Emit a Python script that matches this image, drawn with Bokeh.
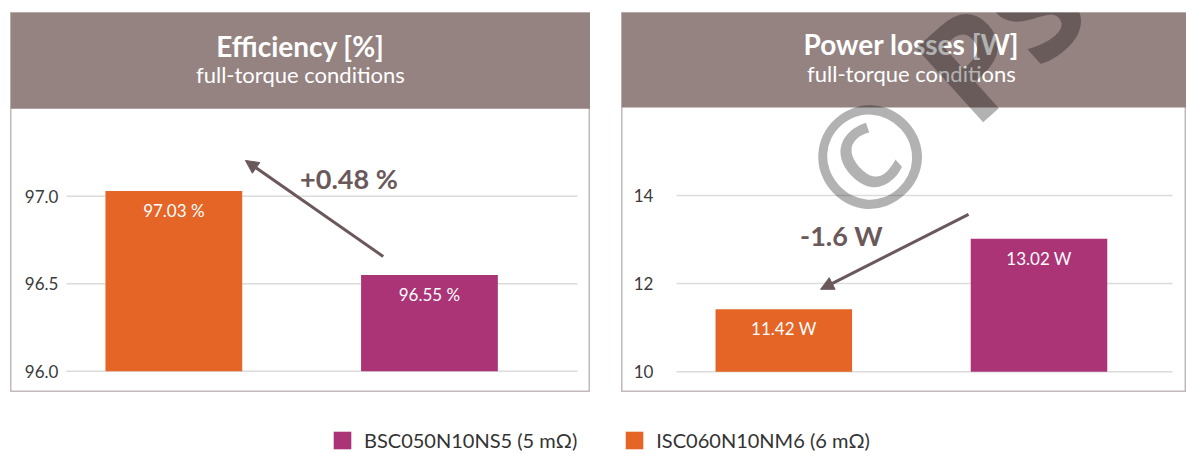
from bokeh.plotting import figure
from bokeh.layouts import column, row
from bokeh.models import (ColumnDataSource, BoxAnnotation, Label, Arrow, NormalHead,
                          FixedTicker, Spacer, Legend, LegendItem, NumeralTickFormatter, Range1d)
from bokeh.core.properties import value
from bokeh.embed import file_html
from bokeh.resources import INLINE

# ---------------- data ----------------
devices = ["ISC060N10NM6 (6 mΩ)", "BSC050N10NS5 (5 mΩ)"]
bar_colors = ["#e46526", "#aa3476"]
efficiency = [97.03, 96.55]
efficiency_labels = ["97.03 %", "96.55 %"]
losses = [11.42, 13.02]
losses_labels = ["11.42 W", "13.02 W"]
eff_ticks = [96.0, 96.5, 97.0]
loss_ticks = [10, 12, 14]
eff_base = 96.0
loss_base = 10.0
eff_delta = "+0.48 %"
loss_delta = "-1.6 W"
panel_titles = ["Efficiency [%]", "Power losses [W]"]
panel_subtitle = "full-torque conditions"

FONT = "Lato"
HEADER = "#958382"
ANNOT = "#6b585b"
BORDER = "#c3b9ba"


def make_panel(width, xr, yr, header_bottom, values, base, labels,
               ticks, fmt, axis_x, grid_x):
    p = figure(width=width, height=380, x_range=Range1d(*xr), y_range=Range1d(*yr),
               output_backend="svg", toolbar_location=None, min_border=0)
    p.xaxis.visible = False
    p.xgrid.visible = False
    p.ygrid.visible = False
    p.background_fill_color = "white"
    p.border_fill_color = "white"
    p.outline_line_color = BORDER
    p.outline_line_width = 2

    # horizontal grid lines at the tick values
    p.segment(x0=grid_x[0], x1=grid_x[1], y0=ticks, y1=ticks,
              line_color="#dcdcdc", line_width=1.5)

    src = ColumnDataSource(dict(x=[0, 1], top=values, color=bar_colors, label=labels))
    p.vbar(x="x", top="top", bottom=base, width=0.535, source=src,
           fill_color="color", line_color=None)
    p.text(x="x", y="top", text="label", source=src, text_align="center",
           text_baseline="top", y_offset=9, text_color="white",
           text_font=value(FONT), text_font_size="17px")

    ax = p.yaxis[0]
    ax.fixed_location = axis_x
    ax.ticker = FixedTicker(ticks=ticks)
    ax.formatter = NumeralTickFormatter(format=fmt)
    ax.axis_line_color = None
    ax.major_tick_line_color = None
    ax.minor_tick_line_color = None
    ax.major_tick_out = 0
    ax.major_tick_in = 0
    ax.major_label_standoff = 4
    ax.major_label_text_font = FONT
    ax.major_label_text_font_size = "17px"
    ax.major_label_text_color = "#3a3a3a"

    p.add_layout(BoxAnnotation(bottom=header_bottom, fill_color=HEADER, fill_alpha=1.0,
                               line_color=None, level="underlay"))
    return p


def header_labels(p, x, y_title, y_sub, title):
    p.add_layout(Label(x=x, y=y_title, text=title, text_align="center",
                       text_baseline="middle", text_color="white", text_font=FONT,
                       text_font_style="bold", text_font_size="28px"))
    p.add_layout(Label(x=x, y=y_sub, text=panel_subtitle, text_align="center",
                       text_baseline="middle", text_color="white", text_font=FONT,
                       text_font_size="22px"))


# ---------------- left panel: efficiency ----------------
p1 = make_panel(580, (-0.639, 1.630), (95.879, 98.049), 97.5,
                efficiency, eff_base, efficiency_labels, eff_ticks, "0.0", -0.436,
                (-0.42, 1.579))
header_labels(p1, 0.495, 97.86, 97.695, panel_titles[0])
p1.add_layout(Arrow(end=NormalHead(size=13, fill_color=ANNOT, line_color=ANNOT),
                    x_start=1 - 0.181, y_start=efficiency[1] + 0.106,
                    x_end=0 + 0.28, y_end=efficiency[0] + 0.174,
                    line_color=ANNOT, line_width=3))
p1.add_layout(Label(x=0.685, y=97.101, text=eff_delta, text_align="center",
                    text_baseline="middle", text_color=ANNOT, text_font=FONT,
                    text_font_style="bold", text_font_size="27px"))

# ---------------- right panel: power losses ----------------
p2 = make_panel(565, (-0.636, 1.578), (9.528, 18.154), 16.0,
                losses, loss_base, losses_labels, loss_ticks, "0", -0.495,
                (-0.42, 1.523))
header_labels(p2, 0.5, 17.43, 16.77, panel_titles[1])
p2.add_layout(Arrow(end=NormalHead(size=13, fill_color=ANNOT, line_color=ANNOT),
                    x_start=1 - 0.276, y_start=losses[1] + 0.55,
                    x_end=0 + 0.144, y_end=losses[0] + 0.45,
                    line_color=ANNOT, line_width=3))
p2.add_layout(Label(x=0.226, y=13.092, text=loss_delta, text_align="center",
                    text_baseline="middle", text_color=ANNOT, text_font=FONT,
                    text_font_style="bold", text_font_size="27px"))
# watermark
p2.add_layout(Label(x=0.156, y=14.07, text="© PSD", text_align="left",
                    text_baseline="middle", text_color="black", text_alpha=0.3,
                    angle=42, angle_units="deg", text_font="Open Sans",
                    text_font_style="bold", text_font_size="140px"))

# ---------------- legend ----------------
pl = figure(width=1186, height=62, x_range=(0, 1), y_range=(0, 1),
            output_backend="svg", toolbar_location=None, min_border=0,
            x_axis_type=None, y_axis_type=None)
pl.xgrid.visible = False
pl.ygrid.visible = False
pl.outline_line_color = None
# legend proxies (placed outside the visible range)
r_b = pl.vbar(x=[-10], top=[-10], width=0.1, fill_color=bar_colors[1], line_color=None)
r_i = pl.vbar(x=[-10], top=[-10], width=0.1, fill_color=bar_colors[0], line_color=None)
legend = Legend(items=[LegendItem(label=devices[1], renderers=[r_b]),
                       LegendItem(label=devices[0], renderers=[r_i])],
                orientation="horizontal", location=(331, 2),
                glyph_width=22, glyph_height=22, label_standoff=11, spacing=46,
                padding=0, margin=0, border_line_color=None,
                background_fill_alpha=0, label_text_font=FONT,
                label_text_font_size="20px", label_text_color="#333333",
                label_height=22)
pl.add_layout(legend)

layout = column(Spacer(width=1186, height=12),
                row(Spacer(width=10, height=380), p1, Spacer(width=31, height=380), p2),
                pl)

open("out.html", "w").write(file_html(layout, INLINE))
